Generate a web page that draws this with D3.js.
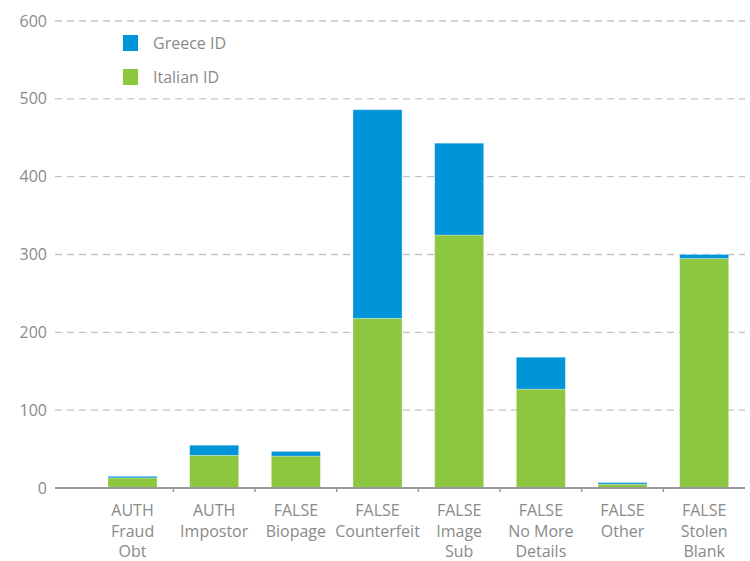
<!DOCTYPE html>
<html>
<head>
<meta charset="utf-8">
<script src="https://cdn.jsdelivr.net/npm/d3@7/dist/d3.min.js"></script>
<style>
  html, body { margin: 0; padding: 0; background: #fff; }
  svg { display: block; font-family: "Open Sans", "Noto Sans", sans-serif; }
</style>
</head>
<body>
<svg id="chart" width="750" height="561"></svg>
<script>
// Document-fraud counts by category, split by issuing country
const categories = [
  ["AUTH", "Fraud", "Obt"],
  ["AUTH", "Impostor"],
  ["FALSE", "Biopage"],
  ["FALSE", "Counterfeit"],
  ["FALSE", "Image", "Sub"],
  ["FALSE", "No More", "Details"],
  ["FALSE", "Other"],
  ["FALSE", "Stolen", "Blank"]
];
const italianID = [13, 42, 41, 218, 325, 127, 5, 295];
const greeceID  = [2, 13, 6, 268, 118, 41, 2, 5];
const seriesNames = ["Italian ID", "Greece ID"];
const seriesColors = ["#8dc63f", "#0095d9"];
const yTicks = [0, 100, 200, 300, 400, 500, 600];

const svg = d3.select("#chart");
const margin = { left: 55, right: 5, top: 21, bottom: 73 };
const W = 750, H = 561;
const plotRight = W - margin.right;
const bandLeft = 91.7;

const keys = categories.map(c => c.join(" "));
const rows = keys.map((k, i) => ({ key: k, "Italian ID": italianID[i], "Greece ID": greeceID[i] }));
const stacked = d3.stack().keys(seriesNames)(rows);

const x = d3.scaleBand().domain(keys).range([bandLeft, plotRight]).paddingInner(0.4).paddingOuter(0.2);
const y = d3.scaleLinear().domain([0, 600]).range([H - margin.bottom, margin.top]);

const textColor = "#8a8a8a";

// Dashed horizontal grid lines
svg.append("g")
  .selectAll("line")
  .data(yTicks.filter(t => t > 0))
  .join("line")
  .attr("x1", margin.left).attr("x2", plotRight)
  .attr("y1", d => y(d)).attr("y2", d => y(d))
  .attr("stroke", "#c4c4c4")
  .attr("stroke-width", 1.4)
  .attr("stroke-dasharray", "7,5");

// Y tick labels
svg.append("g")
  .selectAll("text")
  .data(yTicks)
  .join("text")
  .attr("x", 47)
  .attr("y", d => y(d))
  .attr("dy", "0.35em")
  .attr("text-anchor", "end")
  .attr("fill", textColor)
  .attr("font-size", 16)
  .text(d => d);

// Stacked bars
svg.append("g")
  .selectAll("g")
  .data(stacked)
  .join("g")
  .attr("fill", (d, i) => seriesColors[i])
  .selectAll("rect")
  .data(d => d)
  .join("rect")
  .attr("x", d => x(d.data.key))
  .attr("width", x.bandwidth())
  .attr("y", d => y(d[1]))
  .attr("height", d => y(d[0]) - y(d[1]))
  .attr("stroke", "rgba(255,255,255,0.35)")
  .attr("stroke-width", 0.8);

// X axis baseline and separator ticks between categories
const base = y(0);
svg.append("line")
  .attr("x1", margin.left).attr("x2", plotRight)
  .attr("y1", base).attr("y2", base)
  .attr("stroke", "#9a9a9a").attr("stroke-width", 2);

const step = x.step();
svg.append("g")
  .selectAll("line")
  .data(keys.slice(1))
  .join("line")
  .attr("x1", d => x(d) - step * x.paddingInner() / 2)
  .attr("x2", d => x(d) - step * x.paddingInner() / 2)
  .attr("y1", base).attr("y2", base + 4)
  .attr("stroke", "#9a9a9a").attr("stroke-width", 1.5);

// Multi-line category labels
const lbl = svg.append("g")
  .selectAll("text")
  .data(categories)
  .join("text")
  .attr("x", (d, i) => x(keys[i]) + x.bandwidth() / 2)
  .attr("y", 516)
  .attr("text-anchor", "middle")
  .attr("fill", textColor)
  .attr("font-size", 16);
lbl.selectAll("tspan")
  .data(d => d)
  .join("tspan")
  .attr("x", function () { return d3.select(this.parentNode).attr("x"); })
  .attr("dy", (d, i) => i === 0 ? 0 : 20.5)
  .text(d => d);

// Legend
const legendItems = [
  { name: "Greece ID", color: seriesColors[1] },
  { name: "Italian ID", color: seriesColors[0] }
];
const lg = svg.append("g")
  .selectAll("g")
  .data(legendItems)
  .join("g")
  .attr("transform", (d, i) => `translate(123, ${35 + i * 34})`);
lg.append("rect").attr("width", 15).attr("height", 16).attr("fill", d => d.color);
lg.append("text")
  .attr("x", 30).attr("y", 8).attr("dy", "0.35em")
  .attr("fill", textColor).attr("font-size", 16)
  .text(d => d.name);
</script>
</body>
</html>
